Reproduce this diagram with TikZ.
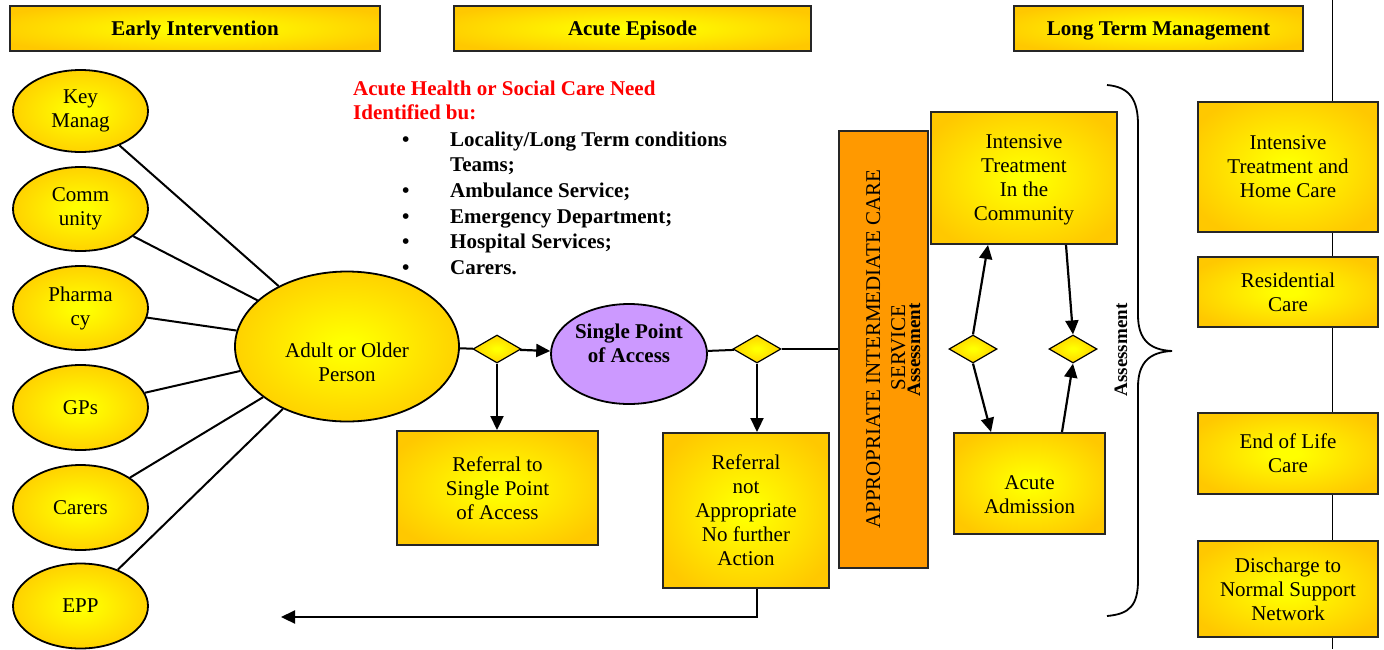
\documentclass[tikz,border=0pt]{standalone}
\usepackage{fontspec}
\setmainfont{Liberation Serif}
\usetikzlibrary{shapes.geometric,arrows.meta}
\definecolor{gold}{HTML}{FFC800}
\definecolor{yel}{HTML}{FFFF00}
\definecolor{lav}{HTML}{CC99FF}
\definecolor{orng}{HTML}{FF9900}
\definecolor{redtxt}{HTML}{FF0000}
\pgfdeclareradialshading{glow}{\pgfpoint{0bp}{0bp}}{color(0bp)=(yel); color(3bp)=(yel); color(30bp)=(gold); color(100bp)=(gold)}
\begin{document}
\begin{tikzpicture}[x=1pt,y=-1pt, font=\fontsize{21}{24}\selectfont,
 box/.style={draw=black!85, line width=2pt, shade, shading=glow, rectangle, align=center, inner sep=0, text depth=0pt},
 ell/.style={draw=black, line width=1.8pt, shade, shading=glow, ellipse, align=center, inner sep=0},
 dia/.style={draw=black, line width=1.2pt, shade, shading=glow, diamond, minimum width=48pt, minimum height=28pt, inner sep=0},
 arr/.style={line width=2.2pt, -{Triangle[length=14pt,width=13pt]}},
 conn/.style={line width=2pt},
 hdr/.style={box, font=\fontsize{21}{24}\selectfont\bfseries},
 lbl/.style={align=center, inner sep=0},
 bold/.style={font=\fontsize{21}{24}\selectfont\bfseries, anchor=base west, inner sep=0}]
\useasboundingbox (0,0) rectangle (1384,649);
% background vertical line
\coordinate (vt) at (1332,0);
\coordinate (vb) at (1332,649);
\draw[line width=1pt] (vt) -- (vb);
% headers
\node[hdr, minimum width=370pt, minimum height=45pt] (h1) at (195,28.5) {Early Intervention};
\node[hdr, minimum width=357pt, minimum height=45pt] (h2) at (632.5,28.5) {Acute Episode};
\node[hdr, minimum width=289pt, minimum height=45pt] (h3) at (1158.5,28.5) {Long Term Management};
% left ellipses
\node[ell, minimum width=135pt, minimum height=82pt] (km) at (80.5,111) {Key\\Manag};
\node[ell, minimum width=135pt, minimum height=84pt] (cm) at (80.5,209) {Comm\\unity};
\node[ell, minimum width=135pt, minimum height=84pt] (ph) at (80.5,308) {Pharma\\cy};
\node[ell, minimum width=135pt, minimum height=85pt] (gp) at (80.5,407.5) {GPs};
\node[ell, minimum width=135pt, minimum height=85pt] (ca) at (80.5,507.5) {Carers};
\node[ell, minimum width=135pt, minimum height=85pt] (ep) at (80.5,606) {EPP};
% adult
\node[ell, minimum width=224pt, minimum height=150pt] (ad) at (347,346.5) {};
\node[lbl] (adt) at (347,362) {Adult or Older\\Person};
\foreach \n in {km,cm,ph,gp,ca,ep} \draw[conn] (\n) -- (ad);
% red title and bullets
\node[bold, text=redtxt] (t1) at (353,95) {Acute Health or Social Care Need};
\node[bold, text=redtxt] (t2) at (353,119) {Identified bu:};
\node[bold] (l1) at (450,146) {Locality/Long Term conditions};
\node[bold] (l2) at (450,171) {Teams;};
\node[bold] (l3) at (450,197) {Ambulance Service;};
\node[bold] (l4) at (450,223) {Emergency Department;};
\node[bold] (l5) at (450,248.5) {Hospital Services;};
\node[bold] (l6) at (450,274) {Carers.};
\node[bold] (b1) at (402,146) {\textbullet};
\node[bold] (b3) at (402,197) {\textbullet};
\node[bold] (b4) at (402,223) {\textbullet};
\node[bold] (b5) at (402,248.5) {\textbullet};
\node[bold] (b6) at (402,274) {\textbullet};
% diamonds
\node[dia] (d1) at (497,349) {};
\node[dia] (d2) at (757,349) {};
\node[dia] (d3) at (973,349) {};
\node[dia] (d4) at (1073,349) {};
% single point of access
\node[draw=black, line width=1.8pt, fill=lav, ellipse, minimum width=156pt, minimum height=100pt, inner sep=0] (spa) at (629,354) {};
\node[lbl, font=\fontsize{21}{24}\selectfont\bfseries] (spat) at (629,343) {Single Point\\of Access};
% referral boxes
\node[box, minimum width=201pt, minimum height=114pt] (rf1) at (497.5,488) {Referral to\\Single Point\\of Access};
\node[box, minimum width=166pt, minimum height=155pt] (rf2) at (746,510.5) {Referral\\not\\Appropriate\\No further\\Action};
% orange bar
\node[draw=black!85, line width=2pt, fill=orng, minimum width=89pt, minimum height=437pt, inner sep=0] (bar) at (883.5,349.5) {};
\node[rotate=90, anchor=base, inner sep=0] (bart1) at (880,349) {APPROPRIATE INTERMEDIATE CARE};
\node[rotate=90, anchor=base, inner sep=0] (bart2) at (905,347.5) {SERVICE};
\node[rotate=90, anchor=base, inner sep=0, font=\fontsize{19}{22}\selectfont\bfseries] (as1) at (920,350) {Assessment};
% acute episode boxes
\node[box, minimum width=186pt, minimum height=132pt] (itc) at (1024,178) {Intensive\\Treatment\\In the\\Community};
\node[box, minimum width=151pt, minimum height=101pt] (aa) at (1029.5,483.5) {};
\node[lbl] (aat) at (1029.5,495) {Acute\\Admission};
% brace
\draw[line width=1.8pt] (1107,85) .. controls (1130,87) and (1138,100) .. (1138,125) -- (1138,315) .. controls (1138,340) and (1150,350) .. (1172,351) .. controls (1150,352) and (1138,362) .. (1138,387) -- (1138,580) .. controls (1138,605) and (1130,614) .. (1107,616);
\node[rotate=90, anchor=base, inner sep=0, font=\fontsize{19}{22}\selectfont\bfseries] (as2) at (1127,350) {Assessment};
% right boxes
\node[box, minimum width=180pt, minimum height=130pt] (lt1) at (1288,167) {Intensive\\Treatment and\\Home Care};
\node[box, minimum width=180pt, minimum height=70pt] (lt2) at (1288,292) {Residential\\Care};
\node[box, minimum width=180pt, minimum height=81pt] (lt3) at (1288,453.5) {End of Life\\Care};
\node[box, minimum width=180pt, minimum height=96pt] (lt4) at (1288,589) {Discharge to\\Normal Support\\Network};
% connectors
\draw[conn] (ad) -- (d1);
\draw[arr] (d1) -- (spa);
\draw[conn] (spa) -- (d2);
\draw[conn] (d2.east) -- (d2.east -| bar.west);
\draw[arr] (d1.south) -- (d1.south |- rf1.north);
\draw[arr] (d2.south) -- (d2.south |- rf2.north);
\coordinate (ret) at (281,617);
\draw[arr] (d2.south |- rf2.south) -- (d2.south |- ret) -- (ret);
\draw[arr] (d3.north) -- ([xshift=-36pt]itc.south);
\draw[arr] (d3.south) -- ([xshift=-38.5pt]aa.north);
\draw[arr] ([xshift=42pt]itc.south) -- (d4.north);
\draw[arr] ([xshift=32.5pt]aa.north) -- (d4.south);
\end{tikzpicture}
\end{document}
